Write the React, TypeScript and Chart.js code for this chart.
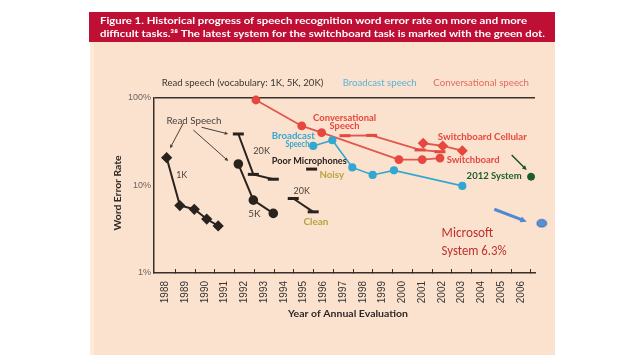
import React, { useEffect, useRef } from 'react';
import { Chart, registerables } from 'chart.js';

Chart.register(...registerables);

// ---------- data (years are evaluation dates, values are word error rate in %) ----------
const yearLabels = [1988, 1989, 1990, 1991, 1992, 1993, 1994, 1995, 1996, 1997, 1998, 1999, 2000, 2001, 2002, 2003, 2004, 2005, 2006];
const yTickValues = [1, 10, 100];

const read1kYears = [1988.06, 1988.73, 1989.46, 1990.09, 1990.67];
const read1kWer = [20.8, 5.9, 5.35, 4.14, 3.45];

const read5kYears = [1991.69, 1992.45, 1993.46];
const read5kWer = [17.6, 6.8, 4.8];

const read20kYears = [1991.69, 1992.45, 1993.46];
const read20kWer = [38.8, 13.4, 11.8];

const clean20kYears = [1994.47, 1995.48];
const clean20kWer = [7.1, 5.0];

const noisyYears = [1995.4];
const noisyWer = [15.4];

const broadcastYears = [1995.48, 1996.45, 1997.46, 1998.49, 1999.57, 2003.03];
const broadcastWer = [28.3, 32.9, 16.1, 13.2, 14.9, 9.9];

const conversationalYears = [1992.58, 1994.9, 1995.91, 1999.82, 2001.0, 2001.9];
const conversationalWer = [94.9, 47.9, 40.2, 19.8, 19.8, 20.6];

const conversationalDashYears = [1997.09, 1998.44, 2000.89, 2001.9];
const conversationalDashWer = [37.1, 37.4, 25.5, 24.3];

const cellularYears = [2001.05, 2002.04, 2003.03];
const cellularWer = [30.4, 28.3, 25.0];

const system2012Years = [2006.51];
const system2012Wer = [12.6];

const microsoftYears = [2007.05];
const microsoftWer = [3.7];

// ---------- text ----------
const TITLE_1 = 'Figure 1. Historical progress of speech recognition word error rate on more and more';
const TITLE_2 = 'difficult tasks.\u00B3\u2078 The latest system for the switchboard task is marked with the green dot.';
const Y_TITLE = 'Word Error Rate';
const X_TITLE = 'Year of Annual Evaluation';

const headerTexts = ['Read speech (vocabulary: 1K, 5K, 20K)', 'Broadcast speech', 'Conversational speech'];

// ---------- styles ----------
const AXIS = '#3a302b';
const DARK = '#2a221d';
const RED = '#e6473f';
const REDLINE = '#e2564c';
const BLUE = '#33a7d0';
const GREEN = '#1b5e2c';
const OLIVE = '#b9a243';
const PEACH = '#fbe2cf';
const BAND = '#bf0f35';
const TRANSPARENT = 'rgba(0,0,0,0)';

type Label = { text: string; year: number; wer: number; font: string; color: string; width: number; align?: CanvasTextAlign };
const labels: Label[] = [
  { text: 'Read Speech', year: 1989.44, wer: 55.0, font: '10px Lato', color: '#4a413b', width: 55 },
  { text: '1K', year: 1988.82, wer: 13.2, font: '10px Lato', color: '#4a413b', width: 11 },
  { text: '20K', year: 1992.87, wer: 25.0, font: '10px Lato', color: '#4a413b', width: 16.7 },
  { text: '5K', year: 1992.5, wer: 4.81, font: '10px Lato', color: '#4a413b', width: 12.3 },
  { text: '20K', year: 1994.9, wer: 8.65, font: '10px Lato', color: '#4a413b', width: 16.3 },
  { text: 'Clean', year: 1995.62, wer: 3.86, font: 'bold 10px Lato', color: OLIVE, width: 25 },
  { text: 'Noisy', year: 1996.42, wer: 13.2, font: 'bold 10px Lato', color: OLIVE, width: 24.7 },
  { text: 'Poor Microphones', year: 1995.28, wer: 19.2, font: 'bold 10px Lato', color: DARK, width: 75 },
  { text: 'Conversational', year: 1997.07, wer: 60.2, font: 'bold 10px Lato', color: RED, width: 63 },
  { text: 'Speech', year: 1997.07, wer: 48.7, font: 'bold 10px Lato', color: RED, width: 30 },
  { text: 'Broadcast', year: 1994.47, wer: 36.8, font: 'bold 10px Lato', color: BLUE, width: 43 },
  { text: 'Speech', year: 1994.68, wer: 29.6, font: 'bold 10px Lato', color: BLUE, width: 24 },
  { text: 'Switchboard Cellular', year: 2004.04, wer: 35.6, font: 'bold 10px Lato', color: RED, width: 89 },
  { text: 'Switchboard', year: 2003.58, wer: 19.7, font: 'bold 10px Lato', color: RED, width: 53 },
  { text: '2012 System', year: 2004.64, wer: 12.9, font: 'bold 10px Lato', color: GREEN, width: 55 },
  { text: 'Microsoft', year: 2001.98, wer: 2.84, font: '14px Carlito, Lato', color: '#c0302a', width: 51.6, align: 'left' },
  { text: 'System 6.3%', year: 2001.98, wer: 1.78, font: '14px Carlito, Lato', color: '#c0302a', width: 65, align: 'left' },
];

type Arrow = { from: [number, number]; to: [number, number]; color: string; width: number; head: number };
const arrows: Arrow[] = [
  { from: [1988.9, 51.4], to: [1988.23, 26.6], color: '#4a403a', width: 1, head: 4 },
  { from: [1989.83, 46.3], to: [1991.18, 38.8], color: '#4a403a', width: 1, head: 4 },
  { from: [1989.41, 43.1], to: [1991.18, 19.05], color: '#4a403a', width: 1, head: 4 },
  { from: [2005.53, 22.3], to: [2006.29, 15.0], color: '#1d4f2a', width: 1.5, head: 5 },
  { from: [2004.65, 5.35], to: [2006.29, 3.86], color: '#4d8ad2', width: 3, head: 7 },
];

function drawText(
  ctx: CanvasRenderingContext2D, text: string, x: number, y: number, font: string, color: string,
  width?: number, align: CanvasTextAlign = 'center', rotate = 0
) {
  ctx.save();
  ctx.font = font;
  ctx.fillStyle = color;
  ctx.textBaseline = 'middle';
  ctx.textAlign = align;
  ctx.translate(x, y);
  if (rotate) ctx.rotate(rotate);
  if (width) {
    const w = ctx.measureText(text).width;
    if (w > 0) ctx.scale(width / w, 1);
  }
  ctx.fillText(text, 0, 0);
  ctx.restore();
}

function drawArrow(ctx: CanvasRenderingContext2D, x1: number, y1: number, x2: number, y2: number, color: string, lw: number, head: number) {
  const ang = Math.atan2(y2 - y1, x2 - x1);
  ctx.save();
  ctx.strokeStyle = color;
  ctx.fillStyle = color;
  ctx.lineWidth = lw;
  ctx.beginPath();
  ctx.moveTo(x1, y1);
  ctx.lineTo(x2 - Math.cos(ang) * head * 0.8, y2 - Math.sin(ang) * head * 0.8);
  ctx.stroke();
  ctx.beginPath();
  ctx.moveTo(x2, y2);
  ctx.lineTo(x2 - head * Math.cos(ang - 0.45), y2 - head * Math.sin(ang - 0.45));
  ctx.lineTo(x2 - head * Math.cos(ang + 0.45), y2 - head * Math.sin(ang + 0.45));
  ctx.closePath();
  ctx.fill();
  ctx.restore();
}

function makeEllipseMarker(): HTMLCanvasElement {
  const c = document.createElement('canvas');
  c.width = 12;
  c.height = 10;
  const g = c.getContext('2d');
  if (g) {
    g.beginPath();
    g.ellipse(6, 5, 4.8, 3.8, 0, 0, Math.PI * 2);
    g.fillStyle = '#5b8fd6';
    g.fill();
    g.lineWidth = 1.1;
    g.strokeStyle = '#3a6ab0';
    g.stroke();
  }
  return c;
}

const decorPlugin = {
  id: 'decor',
  beforeDraw(chart: any) {
    const ctx: CanvasRenderingContext2D = chart.ctx;
    ctx.save();
    ctx.fillStyle = '#ffffff';
    ctx.fillRect(0, 0, chart.width, chart.height);
    ctx.fillStyle = PEACH;
    ctx.fillRect(90, 42, 465, 313);
    ctx.fillStyle = '#fdebd8';
    ctx.fillRect(90, 42, 4, 313);
    ctx.fillStyle = BAND;
    ctx.fillRect(89, 12, 466, 30);
    ctx.restore();
    drawText(ctx, TITLE_1, 100, 20.5, 'bold 10px Lato', '#ffffff', 427, 'left');
    drawText(ctx, TITLE_2, 100, 34, 'bold 10px Lato', '#ffffff', 445, 'left');

    const a = chart.chartArea;
    drawText(ctx, headerTexts[0], a.left + 7.7, a.top - 15, '10px Lato', '#3b3330', 161.6, 'left');
    drawText(ctx, headerTexts[1], a.left + 188.7, a.top - 15, '10px Lato', '#5ab3d3', 74, 'left');
    drawText(ctx, headerTexts[2], a.left + 279.3, a.top - 15, '10px Lato', '#e26a5e', 95.7, 'left');

    drawText(ctx, Y_TITLE, 118, (a.top + a.bottom) / 2 + 7.5, 'bold 10px Lato', '#2f2824', 75, 'center', -Math.PI / 2);
    drawText(ctx, X_TITLE, (a.left + a.right) / 2 + 3.5, 314, 'bold 10px Lato', '#2f2824', 120, 'center');
  },
  afterDatasetsDraw(chart: any) {
    const ctx: CanvasRenderingContext2D = chart.ctx;
    const xs = chart.scales.x;
    const ys = chart.scales.y;
    for (const ar of arrows) {
      drawArrow(
        ctx,
        xs.getPixelForValue(ar.from[0]), ys.getPixelForValue(ar.from[1]),
        xs.getPixelForValue(ar.to[0]), ys.getPixelForValue(ar.to[1]),
        ar.color, ar.width, ar.head
      );
    }
    for (const l of labels) {
      drawText(ctx, l.text, xs.getPixelForValue(l.year), ys.getPixelForValue(l.wer), l.font, l.color, l.width, l.align || 'center');
    }
  },
};

function pts(xs: number[], ys: number[]) {
  return xs.map((x, i) => ({ x, y: ys[i] }));
}

export default function App() {
  const ref = useRef<HTMLCanvasElement | null>(null);

  useEffect(() => {
    if (!ref.current) return;
    const common = { tension: 0, clip: false as any };
    const ellipse = makeEllipseMarker();
    const chart = new Chart(ref.current, {
      type: 'line',
      data: {
        datasets: [
          {
            label: 'System 2012', data: pts(system2012Years, system2012Wer), showLine: false,
            pointStyle: 'circle', pointRadius: 3.5, pointBackgroundColor: GREEN, pointBorderColor: GREEN, ...common,
          },
          {
            label: 'Microsoft', data: pts(microsoftYears, microsoftWer), showLine: false,
            pointStyle: ellipse, pointRadius: 4, pointBorderWidth: 4, pointBorderColor: TRANSPARENT, ...common,
          },
          {
            label: 'Read speech 1K', data: pts(read1kYears, read1kWer), borderColor: DARK, borderWidth: 2,
            pointStyle: 'rectRot', pointRadius: 4.2, pointBackgroundColor: DARK, pointBorderColor: DARK, ...common,
          },
          {
            label: 'Read speech 5K', data: pts(read5kYears, read5kWer), borderColor: DARK, borderWidth: 2,
            pointStyle: 'circle', pointRadius: 3.8, pointBackgroundColor: DARK, pointBorderColor: DARK, ...common,
          },
          {
            label: 'Read speech 20K', data: pts(read20kYears, read20kWer), borderColor: DARK, borderWidth: 2,
            pointStyle: 'line', pointRadius: 5.5, pointBorderWidth: 3, pointBorderColor: DARK, ...common,
          },
          {
            label: 'Clean 20K', data: pts(clean20kYears, clean20kWer), borderColor: DARK, borderWidth: 2,
            pointStyle: 'line', pointRadius: 5.5, pointBorderWidth: 3, pointBorderColor: DARK, ...common,
          },
          {
            label: 'Noisy', data: pts(noisyYears, noisyWer), showLine: false,
            pointStyle: 'line', pointRadius: 5.5, pointBorderWidth: 3, pointBorderColor: DARK, ...common,
          },
          {
            label: 'Broadcast speech', data: pts(broadcastYears, broadcastWer), borderColor: BLUE, borderWidth: 1.6,
            pointStyle: 'circle', pointRadius: 3.3, pointBackgroundColor: BLUE, pointBorderColor: BLUE, ...common,
          },
          {
            label: 'Conversational speech', data: pts(conversationalYears, conversationalWer), borderColor: REDLINE, borderWidth: 1.8,
            pointStyle: 'circle', pointRadius: 3.5, pointBackgroundColor: RED, pointBorderColor: RED, ...common,
          },
          {
            label: 'Conversational speech (dashes)', data: pts(conversationalDashYears, conversationalDashWer), borderColor: REDLINE, borderWidth: 1.8,
            pointStyle: 'line', pointRadius: 5.5, pointBorderWidth: 3, pointBorderColor: RED, ...common,
          },
          {
            label: 'Switchboard Cellular', data: pts(cellularYears, cellularWer), borderColor: REDLINE, borderWidth: 1.8,
            pointStyle: 'rectRot', pointRadius: 4.2, pointBackgroundColor: RED, pointBorderColor: RED, ...common,
          },
        ],
      },
      options: {
        responsive: false,
        animation: false,
        events: [],
        layout: { padding: { left: 0, right: 105, top: 98, bottom: 0 } },
        plugins: { legend: { display: false }, tooltip: { enabled: false }, title: { display: false } },
        scales: {
          x: {
            type: 'linear',
            min: 1987.42,
            max: 2006.71,
            afterBuildTicks: (scale: any) => {
              const t: { value: number }[] = [];
              yearLabels.forEach((y) => { t.push({ value: y }); t.push({ value: y + 0.5 }); });
              scale.ticks = t;
            },
            afterFit: (scale: any) => { scale.height = 87; },
            border: { display: true, color: AXIS, width: 1.5 },
            grid: {
              drawOnChartArea: false,
              drawTicks: true,
              tickLength: -4,
              lineWidth: 1,
              color: (c: any) => (c.tick && c.tick.value % 1 !== 0 ? AXIS : TRANSPARENT),
            },
            ticks: {
              autoSkip: false,
              minRotation: 90,
              maxRotation: 90,
              padding: 12,
              color: '#3a3430',
              font: { family: 'Liberation Sans', size: 10 },
              callback: (v: any) => (Number.isInteger(Number(v)) ? String(v) : ''),
            },
          },
          y: {
            type: 'logarithmic',
            min: 1,
            max: 100,
            afterBuildTicks: (scale: any) => { scale.ticks = yTickValues.map((value) => ({ value })); },
            afterFit: (scale: any) => { scale.width = 154; },
            border: { display: true, color: AXIS, width: 1.5 },
            grid: {
              drawOnChartArea: true,
              drawTicks: false,
              lineWidth: 1.5,
              color: (c: any) => (c.tick && c.tick.value === 100 ? AXIS : TRANSPARENT),
            },
            ticks: {
              padding: 3,
              color: '#6b625c',
              font: { family: 'Liberation Sans', size: 9 },
              callback: (v: any) => `${v}%`,
            },
          },
        },
      },
      plugins: [decorPlugin],
    } as any);
    return () => chart.destroy();
  }, []);

  return (
    <div style={{ position: 'fixed', left: 0, top: 0, width: 640, height: 360, background: '#fff' }}>
      <canvas ref={ref} width={640} height={360} style={{ display: 'block', width: 640, height: 360 }} />
    </div>
  );
}
